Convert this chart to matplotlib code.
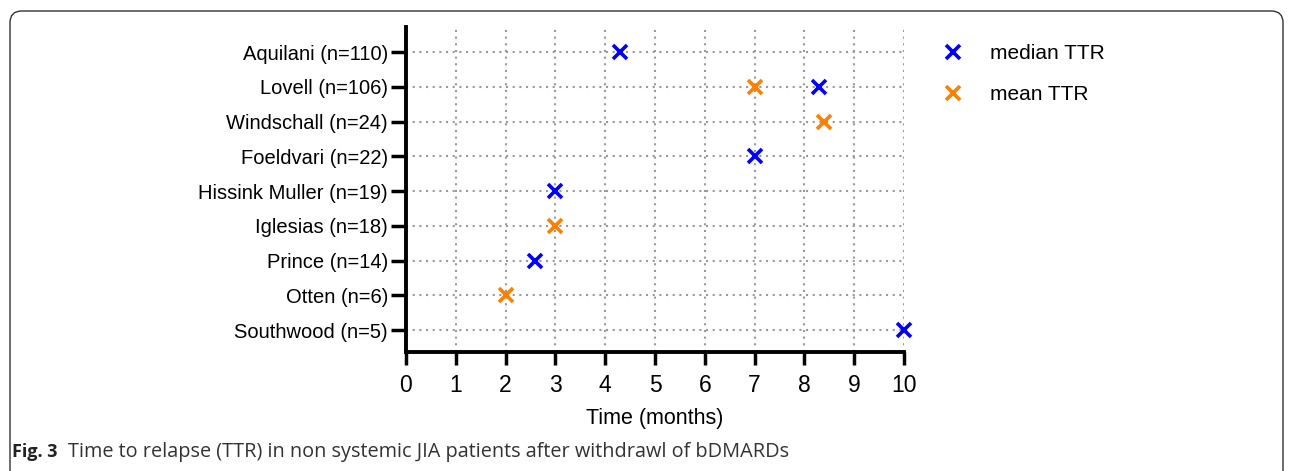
import numpy as np
import matplotlib
matplotlib.use("Agg")
import matplotlib.pyplot as plt
from matplotlib.patches import FancyBboxPatch

studies = ["Aquilani (n=110)", "Lovell (n=106)", "Windschall (n=24)", "Foeldvari (n=22)",
           "Hissink Muller (n=19)", "Iglesias (n=18)", "Prince (n=14)", "Otten (n=6)",
           "Southwood (n=5)"]
median_ttr = [4.3, 8.3, np.nan, 7.0, 3.0, np.nan, 2.6, np.nan, 10.0]
mean_ttr = [np.nan, 7.0, 8.4, np.nan, np.nan, 3.0, np.nan, 2.0, np.nan]
xticks = list(range(0, 11))

plt.rcParams['font.family'] = ['Liberation Sans', 'DejaVu Sans']

fig = plt.figure(figsize=(12.95, 4.71), dpi=100)
ax = fig.add_axes([406/1295, 1-352/471, 498/1295, 325/471])

ypos = np.arange(len(studies))
ax.plot(median_ttr, ypos, ls="none", marker="x", ms=10.5, mew=2.6, color="#0000ff",
        label="median TTR", clip_on=False, zorder=3)
ax.plot(mean_ttr, ypos, ls="none", marker="x", ms=10.5, mew=2.6, color="#ff8000",
        label="mean TTR", clip_on=False, zorder=3)

ax.set_xlim(0, 10)
ax.set_ylim(8.63, -0.72)
ax.set_xticks(xticks)
ax.set_yticks(ypos)
ax.set_yticklabels(studies, fontsize=14.5)
ax.tick_params(axis="x", labelsize=16.5, width=2.5, length=9, pad=7)
ax.tick_params(axis="y", width=2.5, length=11, pad=2)
ax.grid(True, ls=(0, (1, 2.2)), color="#999999", lw=1.5)
for s in ["top", "right"]:
    ax.spines[s].set_visible(False)
for s in ["left", "bottom"]:
    ax.spines[s].set_linewidth(2.8)
ax.set_xlabel("Time (months)", fontsize=15.5, labelpad=8)

ax.legend(loc="upper left", bbox_to_anchor=(1.038, 1.005), frameon=False, fontsize=15,
          handlelength=1.1, handletextpad=1.2, labelspacing=1.05)

# rounded frame around the figure panel
box = FancyBboxPatch((10/1295, -0.1), 1273/1295, 1.1 - 11/471,
                     boxstyle="round,pad=0,rounding_size=0.009",
                     transform=fig.transFigure, fill=False, ec="#333333", lw=1.0,
                     clip_on=False, mutation_aspect=1295/471)
fig.patches.append(box)

fig.text(12/1295, 1-452/471, "Fig. 3", fontsize=13, fontweight="bold",
         family=["Open Sans", "DejaVu Sans"], va="center", color="#222222")
fig.text(68/1295, 1-452/471, "Time to relapse (TTR) in non systemic JIA patients after withdrawl of bDMARDs",
         fontsize=14.3, family=["Open Sans", "DejaVu Sans"], va="center", color="#333333")

fig.savefig("out.png", dpi=100)
